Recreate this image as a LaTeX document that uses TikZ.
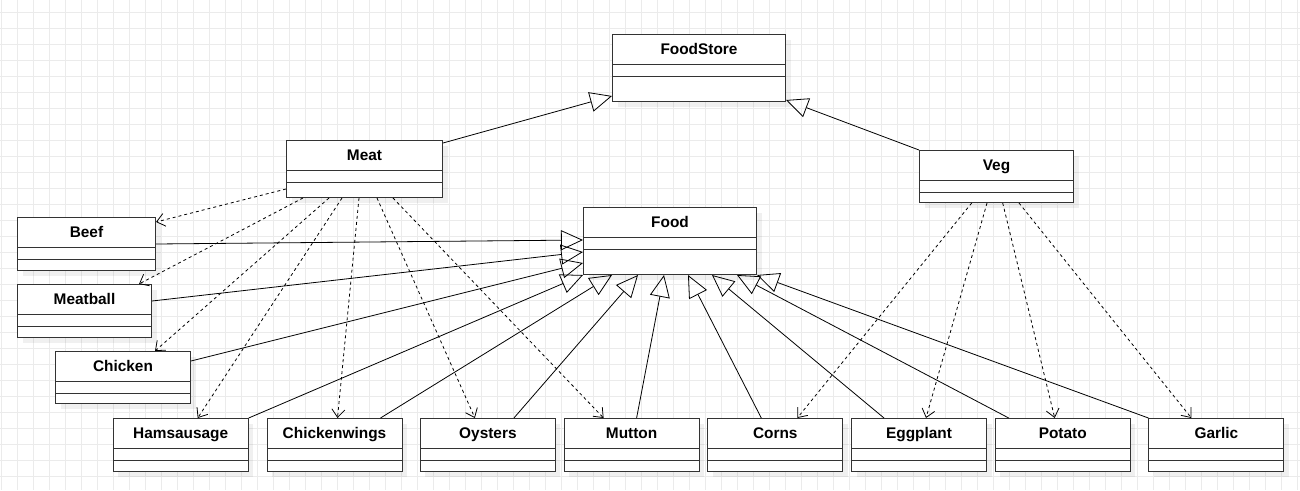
\documentclass[tikz,border=0pt]{standalone}
\usepackage{fontspec}
\setmainfont{Liberation Sans}
\usetikzlibrary{positioning,arrows.meta,shadows}

\begin{document}
\begin{tikzpicture}[x=1pt, y=-1pt, node distance={7.7pt},
  cls/.style = {draw=black!80, fill=white, line width=1pt, anchor=north west,
    inner xsep=0pt, inner ysep=0pt, text height=20pt, text depth=#1,
    font=\fontsize{15.4pt}{18pt}\selectfont\bfseries,
    drop shadow={shadow xshift=5pt, shadow yshift=-5pt, fill=black, opacity=0.06},
    path picture={
      \draw[black!80, line width=1pt]
        ([yshift=-30pt]path picture bounding box.north west) -- ([yshift=-30pt]path picture bounding box.north east)
        ([yshift=-42pt]path picture bounding box.north west) -- ([yshift=-42pt]path picture bounding box.north east);
    }},
  gridline/.style = {black!8, line width=1pt},
  gen/.style = {-{Triangle[open, length=22pt, width=20pt]}, line width=0.8pt},
  dep/.style = {-{Straight Barb[length=8pt, width=13pt]}, line width=0.8pt, dash pattern=on 3pt off 3pt}]
\useasboundingbox (0,0) rectangle (1300,490);
% background grid
\foreach \k in {0,...,81} \draw[gridline] (1.3+16*\k,0) -- (1.3+16*\k,490);
\foreach \k in {0,...,29} \draw[gridline] (0,12.3+16*\k) -- (1300,12.3+16*\k);

% classes
\node[cls=47pt, minimum width=173pt] (store) at (612,34) {FoodStore};
\node[cls=37pt, minimum width=156pt] (meat) at (286,140) {Meat};
\node[cls=32pt, minimum width=154pt] (veg) at (919,150) {Veg};
\node[cls=47pt, minimum width=173pt] (food) at (583,207) {Food};
\node[cls=33pt, minimum width=138pt] (beef) at (17,217) {Beef};
\node[cls=33pt, minimum width=134pt] (meatball) at (17,284) {Meatball};
\node[cls=32pt, minimum width=135pt] (chicken) at (55,351) {Chicken};
\node[cls=33pt, minimum width=135pt] (ham) at (112.7,418) {Hamsausage};
\node[cls=33pt, minimum width=135pt] (wings) [right=17.8pt of ham] {Chickenwings};
\node[cls=33pt, minimum width=135pt] (oysters) [right=17.4pt of wings] {Oysters};
\node[cls=33pt, minimum width=135pt] (mutton) [right=of oysters] {Mutton};
\node[cls=33pt, minimum width=135pt] (corns) [right=of mutton] {Corns};
\node[cls=33pt, minimum width=135pt] (eggplant) [right=of corns] {Eggplant};
\node[cls=33pt, minimum width=135pt] (potato) [right=of eggplant] {Potato};
\node[cls=33pt, minimum width=135pt] (garlic) [right=17.7pt of potato] {Garlic};

% inheritance
\draw[gen] ([yshift=-3pt]meat.north east) -- ([yshift=6pt]store.south west);
\draw[gen] (veg.north west) -- ([yshift=2pt]store.south east);
\draw[gen] (beef.east) -- ([yshift=-33pt]food.north west);
\draw[gen] ([yshift=-17pt]meatball.north east) -- ([yshift=-45pt]food.north west);
\draw[gen] ([yshift=-10pt]chicken.north east) -- ([yshift=-56pt]food.north west);
\draw[gen] (ham.north east) -- (food.south west);
\draw[gen] ([xshift=-22pt]wings.north east) -- ([xshift=29pt]food.south west);
\draw[gen] ([xshift=-42pt]oysters.north east) -- ([xshift=55pt]food.south west);
\draw[gen] ([xshift=5pt]mutton.north) -- ([xshift=81pt]food.south west);
\draw[gen] ([xshift=-14pt]corns.north) -- ([xshift=105pt]food.south west);
\draw[gen] ([xshift=33pt]eggplant.north west) -- ([xshift=129pt]food.south west);
\draw[gen] ([xshift=14pt]potato.north west) -- ([xshift=154pt]food.south west);
\draw[gen] (garlic.north west) -- (food.south east);

% dependencies
\draw[dep] ([yshift=-49pt]meat.north west) -- ([yshift=-5pt]beef.north east);
\draw[dep] ([xshift=17pt]meat.south west) -- ([xshift=-13pt]meatball.north east);
\draw[dep] ([xshift=43pt]meat.south west) -- ([xshift=100pt]chicken.north west);
\draw[dep] ([xshift=56pt]meat.south west) -- ([xshift=85pt]ham.north west);
\draw[dep] ([xshift=73pt]meat.south west) -- ([xshift=3pt]wings.north);
\draw[dep] ([xshift=91pt]meat.south west) -- ([xshift=55pt]oysters.north west);
\draw[dep] ([xshift=107pt]meat.south west) -- ([xshift=40pt]mutton.north west);
\draw[dep] ([xshift=52.7pt]veg.south west) -- ([xshift=90pt]corns.north west);
\draw[dep] ([xshift=68pt]veg.south west) -- ([xshift=75pt]eggplant.north west);
\draw[dep] ([xshift=83.7pt]veg.south west) -- ([xshift=60pt]potato.north west);
\draw[dep] ([xshift=100pt]veg.south west) -- ([xshift=43pt]garlic.north west);
\end{tikzpicture}
\end{document}
